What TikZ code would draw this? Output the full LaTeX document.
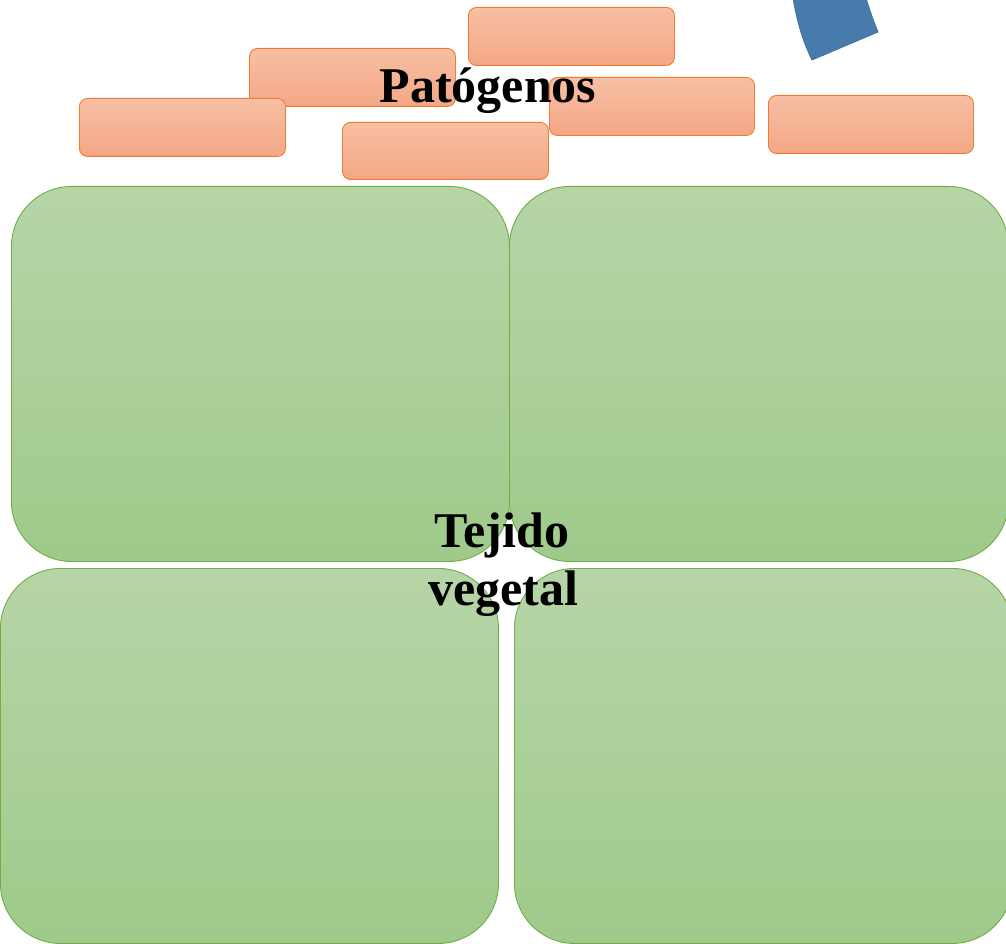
\documentclass[tikz,border=0pt]{standalone}
\usepackage{fontspec}
\setmainfont{Liberation Serif}
\definecolor{orTop}{RGB}{247,191,164}
\definecolor{orBot}{RGB}{244,167,133}
\definecolor{orLine}{RGB}{237,125,49}
\definecolor{grTop}{RGB}{182,213,167}
\definecolor{grBot}{RGB}{159,202,138}
\definecolor{grLine}{RGB}{112,173,71}
\definecolor{blFill}{RGB}{71,123,171}
\definecolor{blLine}{RGB}{65,113,156}
\tikzset{
  tissue/.style={rectangle, rounded corners=60pt, draw=grLine, line width=0.9pt,
    top color=grTop, bottom color=grBot, anchor=north west, inner sep=0pt,
    minimum width=498pt, minimum height=375pt},
  pathogen/.style={rectangle, rounded corners=8pt, draw=orLine, line width=0.9pt,
    top color=orTop, bottom color=orBot, anchor=north west, inner sep=0pt,
    minimum width=206pt, minimum height=58pt},
  bigtitle/.style={font=\fontsize{50}{56}\selectfont\bfseries, anchor=base, inner sep=0pt, align=center}
}
\begin{document}
\begin{tikzpicture}[x=1pt,y=-1pt]
\useasboundingbox (0,0) rectangle (1006,944);
\clip (0,0) rectangle (1006,944);
% plant tissue cells
\node[tissue] (tl) at (11,186) {};
\node[tissue, minimum width=499pt] (tr) at (509,186) {};
\node[tissue] (bl) at (0,568) {};
\node[tissue] (br) at (514,568) {};
% pathogens
\node[pathogen] (p2) at (249,48) {};
\node[pathogen] (p1) at (79,98) {};
\node[pathogen] (p3) at (468,7) {};
\node[pathogen, minimum height=57pt] (p4) at (342,122) {};
\node[pathogen, minimum width=205pt] (p5) at (549,77) {};
\node[pathogen, minimum width=205pt] (p6) at (768,95) {};
% blue arc segment
\draw[fill=blFill, draw=blLine, line width=0.8pt]
  (793,-2) .. controls (797,22) and (803,42) .. (812,60)
  -- (878,32) .. controls (873,20) and (869,8) .. (866,-2) -- cycle;
% labels
\node[bigtitle] (pat) at (488,103) {Patógenos};
\node[bigtitle] (tej) at (502,547) {Tejido};
\node[bigtitle] (veg) at (503,605) {vegetal};
\end{tikzpicture}
\end{document}
